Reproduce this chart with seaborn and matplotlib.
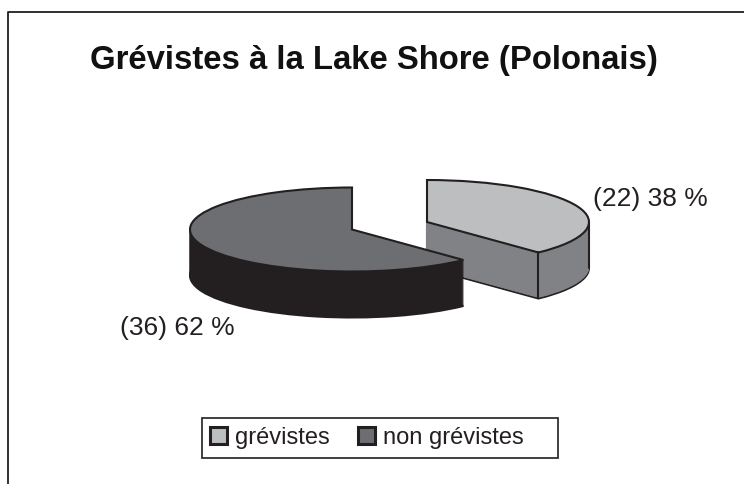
# greviste pie chart, fake 3D look made from stacked pies
import matplotlib
matplotlib.use("Agg")
import matplotlib.pyplot as plt
from matplotlib.lines import Line2D
from matplotlib.patches import Patch, Rectangle
import numpy as np
import seaborn as sns

title = "Grévistes à la Lake Shore (Polonais)"
labels = ["grévistes", "non grévistes"]
counts = [22, 36]
slice_labels = ["(22) 38 %", "(36) 62 %"]

W, H = 744, 484
top_colors = sns.color_palette(["#bcbec0", "#6d6e71"])
wall_colors = sns.color_palette(["#808285", "#231f20"])

sns.set_theme(style="white")
plt.rcParams["font.family"] = ["Liberation Sans", "DejaVu Sans"]

fig = plt.figure(figsize=(W / 100, H / 100), dpi=100)
ax = fig.add_axes([0, 0, 1, 1])

# pixels per pie radius, squashing the circle gives the tilted look
rx, ry = 162, 42
depth = 46
centers = [(427, 222), (352, 229.5)]


def draw_slice(i, y_shift, color, edge, lw):
    cx, cy = centers[i]
    wedges, _ = ax.pie(counts, startangle=90, counterclock=False, radius=1,
                       center=(cx / rx, (H - cy - y_shift) / ry),
                       colors=[color, color], frame=True,
                       wedgeprops=dict(edgecolor=edge, linewidth=lw))
    wedges[1 - i].set_visible(False)


for i in [0, 1]:
    # side wall: one pie per pixel going up, then the outlined top
    draw_slice(i, depth, wall_colors[i], "#231f20", 1.5)
    for d in range(depth - 1, 0, -1):
        draw_slice(i, d, wall_colors[i], wall_colors[i], 0.5)
    cx, cy = centers[i]
    if i == 0:
        # vertical edges of the light slice
        ang = 2 * np.pi * counts[0] / sum(counts)
        for xe, ye in [(cx + rx, cy), (cx + rx * np.sin(ang), cy - ry * np.cos(ang))]:
            ax.plot([xe / rx, xe / rx], [(H - ye) / ry, (H - ye - depth) / ry],
                    color="#231f20", lw=1.5, zorder=5)
    draw_slice(i, 0, top_colors[i], "#231f20", 1.5)

ax.set_aspect("auto")
ax.set_xlim(0, W / rx)
ax.set_ylim(0, H / ry)
ax.axis("off")

# chart frame, only top and left fall inside the crop
fig.add_artist(Line2D([7.5 / W, 7.5 / W, 1], [0, 1 - 11.5 / H, 1 - 11.5 / H],
                      transform=fig.transFigure, color="#231f20", lw=1.3))

fig.text(374 / W, 1 - 61 / H, title, ha="center", va="center",
         fontsize=23.7, fontweight="bold", color="#111111")
fig.text(650.5 / W, 1 - 199 / H, slice_labels[0], ha="center", va="center",
         fontsize=19, color="#231f20")
fig.text(177 / W, 1 - 327.5 / H, slice_labels[1], ha="center", va="center",
         fontsize=19, color="#231f20")

# legend box is wider on the right than the entries need, so drawn by hand
fig.add_artist(Rectangle((201.5 / W, 1 - 458 / H), 356.5 / W, 40 / H,
                         transform=fig.transFigure, facecolor="white",
                         edgecolor="#231f20", linewidth=1.2))
handles = [Patch(facecolor=c, edgecolor="#231f20", linewidth=2.2) for c in top_colors]
leg = fig.legend(handles, labels, loc="center left", bbox_to_anchor=(210 / W, 1 - 438 / H),
                 ncol=2, fontsize=17, frameon=False, handlelength=0.72, handleheight=0.72,
                 handletextpad=0.34, columnspacing=1.18, borderpad=0, borderaxespad=0)
leg.set_zorder(5)
for t in leg.get_texts():
    t.set_color("#231f20")

fig.savefig("out.png", dpi=100, facecolor="white")
